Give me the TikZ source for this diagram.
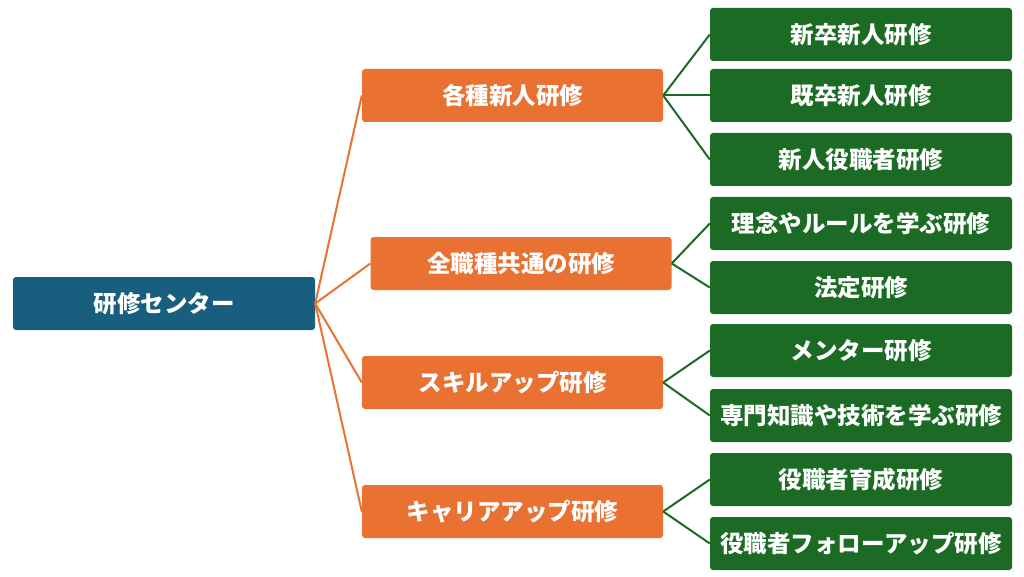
\documentclass[tikz,border=0pt]{standalone}
\usepackage{fontspec}
\newfontfamily\jp{Noto Sans CJK JP}
\definecolor{cblue}{HTML}{175E7F}
\definecolor{corange}{HTML}{E97132}
\definecolor{cgreen}{HTML}{1B6B25}
\tikzset{
  box/.style={rounded corners=3pt, minimum height=53pt, inner sep=0pt, text=white,
    font=\jp\bfseries\fontsize{23.5}{25}\selectfont},
  rootbox/.style={box, fill=cblue, minimum width=302pt},
  midbox/.style={box, fill=corange, minimum width=301pt},
  leafbox/.style={box, fill=cgreen, minimum width=302pt},
  oline/.style={draw=corange, line width=2pt},
  gline/.style={draw=cgreen, line width=2pt},
}
\begin{document}
\begin{tikzpicture}[x=1pt,y=-1pt]
\useasboundingbox[fill=white] (0,0) rectangle (1024,577);
\node[rootbox] (root) at (164,303.5) {研修センター};
\node[midbox] (m1) at (512.5,95.5) {各種新人研修};
\node[midbox] (m2) at (521,263.5) {全職種共通の研修};
\node[midbox] (m3) at (512.5,382.5) {スキルアップ研修};
\node[midbox] (m4) at (512.5,511.5) {キャリアアップ研修};
\node[leafbox] (l1) at (861,34.5) {新卒新人研修};
\node[leafbox] (l2) at (861,95.5) {既卒新人研修};
\node[leafbox] (l3) at (861,159.5) {新人役職者研修};
\node[leafbox] (l4) at (861,223.5) {理念やルールを学ぶ研修};
\node[leafbox] (l5) at (861,287.5) {法定研修};
\node[leafbox] (l6) at (861,350.5) {メンター研修};
\node[leafbox] (l7) at (861,415.5) {専門知識や技術を学ぶ研修};
\node[leafbox] (l8) at (861,479.5) {役職者育成研修};
\node[leafbox] (l9) at (861,543.5) {役職者フォローアップ研修};
\foreach \m in {m1,m2,m3,m4} \draw[oline] (root.east) -- (\m.west);
\foreach \l in {l1,l2,l3} \draw[gline] (m1.east) -- (\l.west);
\foreach \l in {l4,l5} \draw[gline] (m2.east) -- (\l.west);
\foreach \l in {l6,l7} \draw[gline] (m3.east) -- (\l.west);
\foreach \l in {l8,l9} \draw[gline] (m4.east) -- (\l.west);
\end{tikzpicture}
\end{document}
